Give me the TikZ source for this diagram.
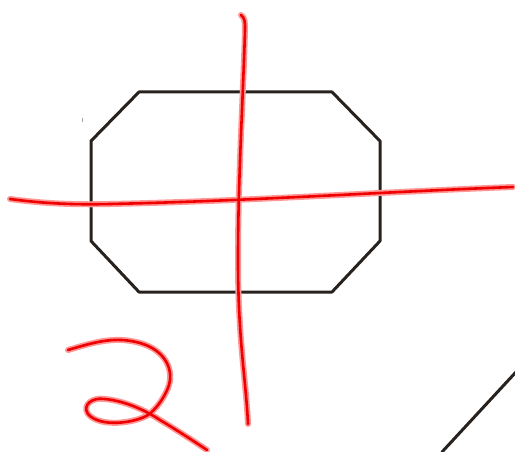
\documentclass[tikz,border=0pt]{standalone}
\begin{document}
\begin{tikzpicture}[x=1pt,y=-1pt,
  ink/.style={draw={rgb,255:red,40;green,34;blue,30},line width=3pt,line join=round,line cap=round},
  halo/.style={draw={rgb,255:red,255;green,150;blue,150},line width=6pt,line cap=round,line join=round},
  pen/.style={draw={rgb,255:red,240;green,0;blue,0},line width=2.6pt,line cap=round,line join=round}]
\useasboundingbox[fill=white] (0,0) rectangle (515,452);
% octagon
\draw[ink] (139,92) -- (332,92) -- (380,141) -- (380,241) -- (332,292) -- (139,292) -- (91,241) -- (91,141) -- cycle;
% diagonal
\draw[ink] (442,452) -- (516,372);
% tiny mark
\draw[draw={rgb,255:red,150;green,170;blue,170},line width=0.8pt] (82,118) -- (82,122);
% red strokes
\foreach \s in {halo,pen}{
  \draw[\s] (10,199) .. controls (40,203) and (70,205) .. (110,204)
    .. controls (250,201) and (380,192) .. (513,187);
  \draw[\s] (241,15) .. controls (245,18) and (245,22) .. (245,30)
    .. controls (243,100) and (238,180) .. (238,260)
    .. controls (238,340) and (246,380) .. (248,424);
  \draw[\s] (68,350) .. controls (95,342) and (115,336) .. (140,343)
    .. controls (165,350) and (175,370) .. (168,388)
    .. controls (163,400) and (155,410) .. (148,415)
    .. controls (135,423) and (100,428) .. (88,414)
    .. controls (82,405) and (92,397) .. (105,399)
    .. controls (125,401) and (145,410) .. (160,420)
    .. controls (180,432) and (195,442) .. (207,450);
}
\end{tikzpicture}
\end{document}
